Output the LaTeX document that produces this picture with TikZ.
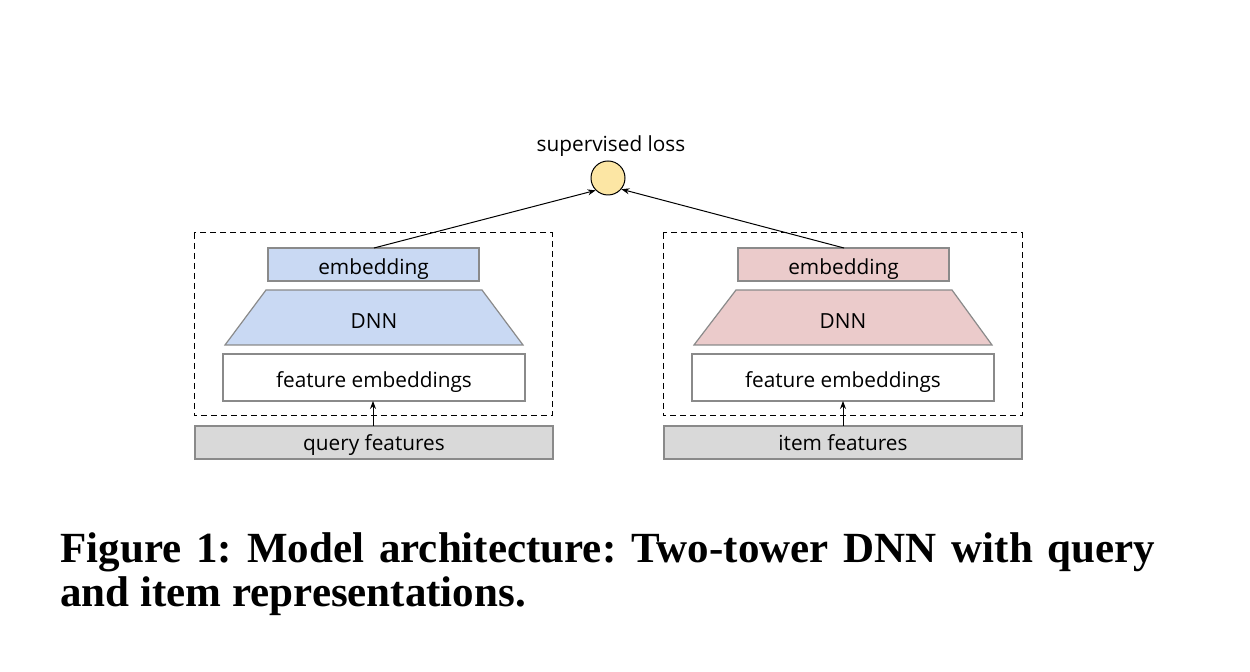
\documentclass[tikz,border=0pt]{standalone}
\usepackage{fontspec}
\setmainfont{Liberation Serif}
\newfontfamily\diagfont{Open Sans}
\usetikzlibrary{arrows.meta}
\definecolor{qblue}{HTML}{C9D9F3}
\definecolor{ipink}{HTML}{EBCBCB}
\definecolor{fgray}{HTML}{D9D9D9}
\definecolor{lyellow}{HTML}{FCE6A4}
\definecolor{edgegray}{HTML}{8A8A8A}
\frenchspacing
\begin{document}
\begin{tikzpicture}[x=0.5pt,y=-0.5pt,
  lbl/.style={font=\diagfont\fontsize{10.4}{12}\selectfont, inner sep=0pt, anchor=base},
  boxstyle/.style={draw=edgegray, line width=0.6pt},
  towerbox/.style={draw=black, dashed, dash pattern=on 3pt off 2pt, line width=0.5pt},
  conn/.style={draw=black, line width=0.5pt, -{Stealth[length=4pt,width=3pt]}}]
\useasboundingbox (0,0) rectangle (1250,672);
% loss
\node[circle, draw=black, line width=0.5pt, fill=lyellow, minimum size=17pt, inner sep=0pt] (loss) at (608,178) {};
\node[lbl] (losslbl) at (611,152) {supervised loss};
% left tower
\draw[towerbox] (194,233) rectangle (552,416);
\draw[boxstyle, fill=qblue] (268,248) rectangle (479,281);
\node[lbl] (lemb) at (373.5,275) {embedding};
\coordinate (lembtop) at (374,248);
\draw[boxstyle, fill=qblue] (266,290) -- (482,290) -- (523,345) -- (225,345) -- cycle;
\node[lbl] (ldnn) at (374,329) {DNN};
\draw[boxstyle, fill=white] (223,354) rectangle (525,401);
\node[lbl] (lfe) at (374,388) {feature embeddings};
\coordinate (lfebot) at (373,401);
\draw[boxstyle, fill=fgray] (195,426) rectangle (553,459);
\node[lbl] (lqf) at (374,451) {query features};
\coordinate (lqftop) at (373,426);
% right tower
\draw[towerbox] (663,233) rectangle (1022,416);
\draw[boxstyle, fill=ipink] (738,248) rectangle (949,281);
\node[lbl] (remb) at (843.5,275) {embedding};
\coordinate (rembtop) at (844,248);
\draw[boxstyle, fill=ipink] (736,290) -- (952,290) -- (992,345) -- (694,345) -- cycle;
\node[lbl] (rdnn) at (843,329) {DNN};
\draw[boxstyle, fill=white] (692,354) rectangle (994,401);
\node[lbl] (rfe) at (843,388) {feature embeddings};
\coordinate (rfebot) at (843,401);
\draw[boxstyle, fill=fgray] (664,426) rectangle (1022,459);
\node[lbl] (rif) at (843,451) {item features};
\coordinate (riftop) at (843,426);
% connectors
\draw[conn] (lqftop) -- (lfebot);
\draw[conn] (riftop) -- (rfebot);
\draw[conn] (lembtop) -- (loss.225);
\draw[conn] (rembtop) -- (loss.-40);
% caption
\node[anchor=base west, inner sep=0pt, font=\bfseries\fontsize{21.5}{24}\selectfont] (cap1) at (60,563)
  {\makebox[547.5pt][s]{Figure 1: Model architecture: Two-tower DNN with query}};
\node[anchor=base west, inner sep=0pt, font=\bfseries\fontsize{21.5}{24}\selectfont] (cap2) at (60,607)
  {and item representations.};
\end{tikzpicture}
\end{document}
